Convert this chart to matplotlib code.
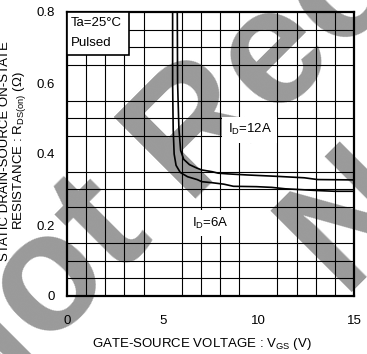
import matplotlib
matplotlib.use('Agg')
import matplotlib.pyplot as plt
import numpy as np
from matplotlib.patches import Rectangle

plt.rcParams['font.family'] = ['Liberation Sans', 'DejaVu Sans']
plt.rcParams['mathtext.fontset'] = 'custom'
plt.rcParams['mathtext.rm'] = 'Liberation Sans'
plt.rcParams['mathtext.it'] = 'Liberation Sans'

# R_DS(on) vs V_GS, Ta=25C, pulsed
vgs_6a = [5.52, 5.52, 5.55, 5.60, 5.70, 5.92, 6.30, 6.80, 7.05, 7.60, 8.20, 8.70,
          9.90, 10.70, 11.40, 12.10, 13.10, 14.00, 15.00]
rds_6a = [0.85, 0.60, 0.47, 0.40, 0.368, 0.348, 0.336, 0.328, 0.322, 0.319, 0.315, 0.309,
          0.308, 0.306, 0.302, 0.300, 0.297, 0.295, 0.295]

vgs_12a = [5.76, 5.78, 5.85, 5.94, 6.10, 6.40, 6.80, 7.05, 7.60, 7.90, 8.40, 9.40,
           11.00, 12.40, 13.10, 15.00]
rds_12a = [0.85, 0.60, 0.47, 0.41, 0.385, 0.370, 0.360, 0.355, 0.350, 0.346, 0.344, 0.341,
           0.337, 0.333, 0.328, 0.327]

xticks = [0, 5, 10, 15]
yticks = [0, 0.2, 0.4, 0.6, 0.8]
ytick_labels = ['0', '0.2', '0.4', '0.6', '0.8']

fig = plt.figure(figsize=(3.67, 3.54), dpi=100)
ax = fig.add_axes([67 / 367, 58 / 354, 287 / 367, 284 / 354])
ax.patch.set_alpha(0)

# watermark, drawn under the axes so grid and labels sit on top
wm = dict(fontsize=120, fontweight='bold', color='#9a9a9a', rotation=45,
          rotation_mode='anchor', ha='left', va='baseline', zorder=-1)
fig.text(-40 / 367, 1 - 436 / 354, 'Not Recommended', **wm)
fig.text(345 / 367, 1 - 300 / 354, 'Not Recommended', **wm)

ax.set_xlim(0, 15)
ax.set_ylim(0, 0.8)
ax.set_xticks(np.arange(0, 15.01, 1), minor=True)
ax.set_yticks(np.arange(0, 0.801, 0.05), minor=True)
ax.grid(which='minor', color='black', linewidth=0.8)
ax.set_xticks(xticks)
ax.set_yticks(yticks)
ax.set_yticklabels(ytick_labels)
ax.tick_params(which='both', length=0, labelsize=9.5)
ax.tick_params(axis='x', pad=14)
ax.tick_params(axis='y', pad=9)
for s in ax.spines.values():
    s.set_linewidth(1.6)

ax.plot(vgs_6a, rds_6a, color='black', linewidth=1.2)
ax.plot(vgs_12a, rds_12a, color='black', linewidth=1.2)

box = dict(facecolor='white', edgecolor='none', pad=4)
ax.text(9.55, 0.468, r'I$_\mathregular{D}$=12A', fontsize=9.5, ha='center', va='center', bbox=box)
ax.text(7.5, 0.205, r'I$_\mathregular{D}$=6A', fontsize=9.5, ha='center', va='center', bbox=box)

ax.add_patch(Rectangle((0, 0.849), 0.216, 0.151, transform=ax.transAxes,
                       facecolor='white', edgecolor='black', linewidth=1.2, zorder=5))
ax.text(0.012, 0.962, 'Ta=25\u00b0C', transform=ax.transAxes, fontsize=9.5,
        va='center', zorder=6)
ax.text(0.012, 0.892, 'Pulsed', transform=ax.transAxes, fontsize=9.5,
        va='center', zorder=6)

fig.text(202 / 367, 1 - 344 / 354, r'GATE-SOURCE VOLTAGE : V$_\mathregular{GS}$ (V)',
         fontsize=9.5, ha='center', va='center')
fig.text(5 / 367, 1 - 151 / 354, 'STATIC DRAIN-SOURCE ON-STATE',
         fontsize=9.5, rotation=90, ha='center', va='center')
fig.text(20 / 367, 1 - 151 / 354, r'RESISTANCE : R$_\mathregular{DS(on)}$ ($\Omega$)',
         fontsize=9.5, rotation=90, ha='center', va='center')

fig.savefig('out.png', dpi=100)
